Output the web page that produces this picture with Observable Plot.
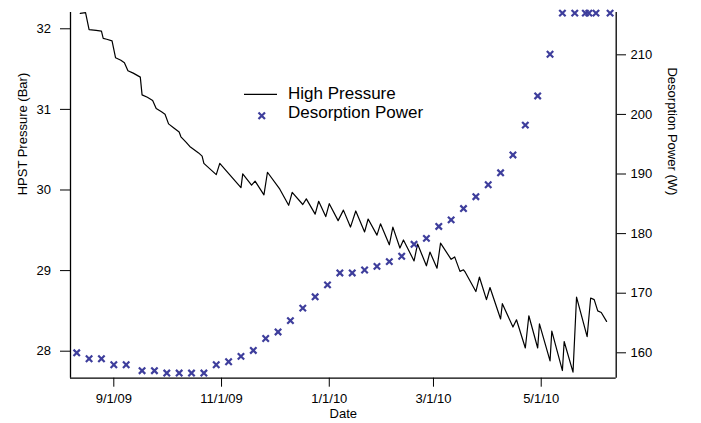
<!DOCTYPE html>
<html>
<head>
<meta charset="utf-8">
<script src="https://cdn.jsdelivr.net/npm/d3@7"></script>
<script src="https://cdn.jsdelivr.net/npm/@observablehq/plot@0.6"></script>
<style>
  html, body { margin: 0; padding: 0; background: #fff; overflow: hidden; }
  #wrap { position: relative; width: 701px; height: 423px; }
  #legend { position: absolute; left: 0; top: 0; width: 701px; height: 423px; pointer-events: none;
            font-family: "Liberation Sans", Arial, Helvetica, sans-serif; font-size: 17px; line-height: 17px; color: #000; }
  #legend .t { position: absolute; left: 288px; white-space: nowrap; }
  #legend svg { position: absolute; overflow: visible; }
</style>
</head>
<body>
<div id="wrap"></div>
<script>
// High Pressure (HPST Pressure, Bar)
const pressureDates = [
  "2009-08-13","2009-08-16","2009-08-18","2009-08-22","2009-08-25","2009-08-26","2009-08-28","2009-08-31",
  "2009-09-02","2009-09-05","2009-09-07","2009-09-09","2009-09-12","2009-09-16","2009-09-17","2009-09-20",
  "2009-09-23","2009-09-25","2009-09-28","2009-09-30","2009-10-02","2009-10-05","2009-10-08","2009-10-09",
  "2009-10-12","2009-10-14","2009-10-19","2009-10-21","2009-10-22","2009-10-24","2009-10-29","2009-10-31",
  "2009-11-12","2009-11-13","2009-11-18","2009-11-20","2009-11-25","2009-11-27","2009-12-04","2009-12-09",
  "2009-12-11","2009-12-17","2009-12-19","2009-12-24","2009-12-26","2009-12-30","2010-01-01","2010-01-06",
  "2010-01-09","2010-01-13","2010-01-16","2010-01-21","2010-01-23","2010-01-28","2010-01-30","2010-02-04",
  "2010-02-06","2010-02-10","2010-02-12","2010-02-18","2010-02-20","2010-02-25","2010-02-27","2010-03-03",
  "2010-03-05","2010-03-11","2010-03-13","2010-03-16","2010-03-18","2010-03-19","2010-03-25","2010-03-27",
  "2010-03-31","2010-04-02","2010-04-08","2010-04-09","2010-04-15","2010-04-17","2010-04-22","2010-04-24",
  "2010-04-29","2010-04-30","2010-05-06","2010-05-07","2010-05-13","2010-05-14","2010-05-19","2010-05-21",
  "2010-05-27","2010-05-29","2010-05-31","2010-06-02","2010-06-04","2010-06-07"
];
const pressureValues = [
  32.19,32.20,31.99,31.98,31.97,31.88,31.87,31.85,
  31.64,31.61,31.58,31.48,31.45,31.40,31.18,31.15,
  31.11,31.01,30.97,30.94,30.82,30.77,30.72,30.66,
  30.59,30.54,30.46,30.42,30.33,30.29,30.19,30.33,
  30.03,30.20,30.06,30.11,29.94,30.22,30.01,29.81,
  29.97,29.82,29.89,29.70,29.86,29.67,29.83,29.62,
  29.75,29.54,29.74,29.48,29.64,29.44,29.58,29.32,
  29.54,29.28,29.38,29.12,29.33,29.06,29.23,29.03,
  29.34,29.14,29.17,28.99,29.01,28.98,28.74,28.92,
  28.64,28.79,28.40,28.59,28.30,28.39,28.04,28.44,
  28.04,28.34,27.88,28.25,27.76,28.12,27.74,28.67,
  28.18,28.66,28.64,28.50,28.48,28.37
];

// Desorption Power (W) – weekly markers
const powerDates = [
  "2009-08-11","2009-08-18","2009-08-25","2009-09-01","2009-09-08","2009-09-17","2009-09-24","2009-10-01",
  "2009-10-08","2009-10-15","2009-10-22","2009-10-29","2009-11-05","2009-11-12","2009-11-19","2009-11-26",
  "2009-12-03","2009-12-10","2009-12-17","2009-12-24","2009-12-31","2010-01-07","2010-01-14","2010-01-21",
  "2010-01-28","2010-02-04","2010-02-11","2010-02-18","2010-02-25","2010-03-04","2010-03-11","2010-03-18",
  "2010-03-25","2010-04-01","2010-04-08","2010-04-15","2010-04-22","2010-04-29","2010-05-06","2010-05-13",
  "2010-05-20","2010-05-26","2010-05-28","2010-06-01","2010-06-09"
];
const powerValues = [
  160.0,159.0,159.0,158.0,158.0,157.0,157.0,156.6,
  156.6,156.6,156.6,158.0,158.5,159.4,160.4,162.4,
  163.5,165.4,167.5,169.4,171.4,173.4,173.4,173.9,
  174.5,175.3,176.2,178.2,179.2,181.2,182.3,184.2,
  186.2,188.2,190.2,193.2,198.2,203.1,210.1,217.0,
  217.0,217.0,217.0,217.0,217.0
];

// Axis ranges and ticks
const xDomain = ["2009-08-07T11:30:00Z", "2010-06-12T11:00:00Z"];
const pressureDomain = [27.665, 32.202];
const powerDomain = [155.74, 217.10];
const xTicks = ["2009-09-01","2009-11-01","2010-01-01","2010-03-01","2010-05-01"];
const pressureTicks = [28, 29, 30, 31, 32];
const powerTicks = [160, 170, 180, 190, 200, 210];

const parse = s => new Date(s.length === 10 ? s + "T00:00:00Z" : s);
const pressure = pressureDates.map((d, i) => ({date: parse(d), value: pressureValues[i]}));
const power = powerDates.map((d, i) => ({date: parse(d), value: powerValues[i]}));
const toP = d3.scaleLinear(powerDomain, pressureDomain);
const xDom = xDomain.map(parse);

const font = "'Liberation Sans', Arial, Helvetica, sans-serif";
const markerColor = "#3e3e9c";

const chart = Plot.plot({
  width: 701,
  height: 423,
  marginLeft: 70,
  marginRight: 85.3,
  marginTop: 12,
  marginBottom: 45.3,
  style: {fontFamily: font, fontSize: "13px", background: "#fff", color: "#000", overflow: "visible"},
  x: {type: "utc", domain: xDom},
  y: {domain: pressureDomain},
  marks: [
    Plot.ruleX(xDom, {stroke: "#000", strokeWidth: 1.3}),
    Plot.ruleY([pressureDomain[0]], {stroke: "#000", strokeWidth: 1.3}),
    Plot.axisX({ticks: xTicks.map(parse), tickFormat: d3.utcFormat("%-m/%-d/%y"), tickSize: 9, tickPadding: 6.5, label: null, fontSize: 13}),
    Plot.axisY({anchor: "left", ticks: pressureTicks, tickFormat: d => String(d), tickSize: 10, tickPadding: 9.5, label: null, fontSize: 13}),
    Plot.axisY({anchor: "right", ticks: powerTicks.map(v => toP(v)), tickFormat: p => String(Math.round(toP.invert(p))), tickSize: 9.3, tickPadding: 5, label: null, fontSize: 13}),
    Plot.line(pressure, {x: "date", y: "value", stroke: "#000", strokeWidth: 1.2}),
    Plot.dot(power, {x: "date", y: d => toP(d.value), symbol: "times", r: 3, stroke: markerColor, strokeWidth: 2.2}),
    Plot.text(["HPST Pressure (Bar)"], {frameAnchor: "left", rotate: -90, dx: -48, fontSize: 13, fill: "#000"}),
    Plot.text(["Desorption Power (W)"], {frameAnchor: "right", rotate: 90, dx: 56, fontSize: 13, fill: "#000"}),
    Plot.text(["Date"], {frameAnchor: "bottom", dy: 40, fontSize: 13, fill: "#000"})
  ]
});

const wrap = document.getElementById("wrap");
wrap.appendChild(chart);

// Legend overlay
const legend = document.createElement("div");
legend.id = "legend";
legend.innerHTML = `
  <svg style="left:244px; top:94px;" width="33" height="1"><line x1="0" y1="0.3" x2="33" y2="0.3" stroke="#000" stroke-width="1.2"/></svg>
  <div class="t" style="top:85px;">High Pressure</div>
  <svg style="left:258px; top:112px;" width="8" height="8"><path d="M0.5,0.5L7,7M7,0.5L0.5,7" stroke="${markerColor}" stroke-width="2.2"/></svg>
  <div class="t" style="top:104.4px;">Desorption Power</div>
`;
wrap.appendChild(legend);
</script>
</body>
</html>
